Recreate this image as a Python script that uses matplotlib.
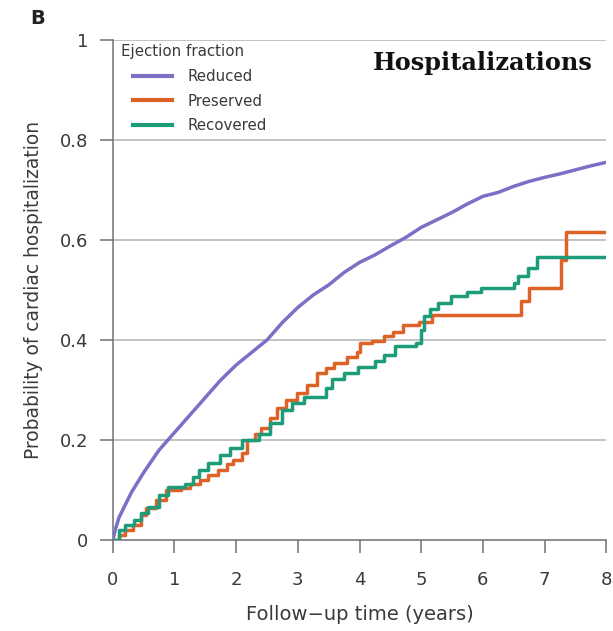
import matplotlib
matplotlib.use("Agg")
import matplotlib.pyplot as plt

plt.rcParams["font.family"] = ["DejaVu Sans"]

# Reduced EF (purple) - cumulative incidence readings
reduced_t = [0, 0.05, 0.1, 0.2, 0.3, 0.4, 0.5, 0.75, 1.0, 1.25, 1.5, 1.75, 2.0, 2.25, 2.5,
             2.75, 3.0, 3.25, 3.5, 3.75, 4.0, 4.25, 4.5, 4.75, 5.0, 5.25, 5.5, 5.75, 6.0,
             6.25, 6.5, 6.75, 7.0, 7.25, 7.5, 7.75, 8.0]
reduced_p = [0, 0.025, 0.045, 0.07, 0.095, 0.115, 0.135, 0.18, 0.215, 0.25, 0.285, 0.32, 0.35,
             0.375, 0.40, 0.435, 0.465, 0.49, 0.51, 0.535, 0.555, 0.57, 0.588, 0.605, 0.625,
             0.64, 0.655, 0.672, 0.687, 0.695, 0.707, 0.717, 0.725, 0.732, 0.74, 0.748, 0.755]

# Preserved EF (orange) - step readings
preserved_t = [0, 0.1, 0.2, 0.33, 0.45, 0.54, 0.7, 0.87, 1.1, 1.25, 1.41, 1.55, 1.7, 1.85,
               1.95, 2.1, 2.17, 2.3, 2.4, 2.55, 2.66, 2.8, 2.99, 3.15, 3.31, 3.45, 3.58, 3.8,
               3.96, 4.0, 4.2, 4.4, 4.55, 4.7, 4.97, 5.18, 6.61, 6.74, 7.26, 7.34, 8.0]
preserved_p = [0, 0.01, 0.02, 0.03, 0.05, 0.065, 0.08, 0.1, 0.105, 0.112, 0.12, 0.13, 0.14,
               0.152, 0.16, 0.175, 0.2, 0.212, 0.225, 0.245, 0.265, 0.28, 0.295, 0.31, 0.335,
               0.345, 0.355, 0.365, 0.375, 0.393, 0.398, 0.407, 0.415, 0.43, 0.435, 0.45,
               0.477, 0.503, 0.56, 0.615, 0.615]

# Recovered EF (green) - step readings
recovered_t = [0, 0.1, 0.2, 0.35, 0.45, 0.57, 0.75, 0.9, 1.17, 1.3, 1.39, 1.55, 1.73, 1.9,
               2.1, 2.37, 2.55, 2.74, 2.9, 3.1, 3.33, 3.45, 3.55, 3.75, 3.98, 4.25, 4.4, 4.57,
               4.91, 5.0, 5.05, 5.15, 5.27, 5.48, 5.75, 5.97, 6.51, 6.57, 6.73, 6.87, 8.0]
recovered_p = [0, 0.02, 0.03, 0.04, 0.055, 0.067, 0.09, 0.107, 0.113, 0.127, 0.14, 0.155,
               0.17, 0.185, 0.2, 0.213, 0.235, 0.26, 0.275, 0.287, 0.287, 0.305, 0.323, 0.335,
               0.347, 0.357, 0.37, 0.387, 0.393, 0.42, 0.447, 0.462, 0.473, 0.487, 0.495,
               0.503, 0.513, 0.527, 0.543, 0.565, 0.565]

labels = ["Reduced", "Preserved", "Recovered"]
colors = ["#7A70C6", "#DD6227", "#1C9C78"]
xticks = [0, 1, 2, 3, 4, 5, 6, 7, 8]
yticks = [0, 0.2, 0.4, 0.6, 0.8, 1.0]
ytick_labels = ["0", "0.2", "0.4", "0.6", "0.8", "1"]

fig = plt.figure(figsize=(6.13, 6.31), dpi=100)
ax = fig.add_axes([0.184, 0.144, 0.805, 0.793])

for y in yticks[1:]:
    ax.axhline(y, color="#b2b2b2", lw=1.1, zorder=1)

lw = 2.5
ax.plot(reduced_t, reduced_p, color=colors[0], lw=lw, label=labels[0], zorder=3)
ax.plot(preserved_t, preserved_p, color=colors[1], lw=lw, drawstyle="steps-post",
        label=labels[1], zorder=3)
ax.plot(recovered_t, recovered_p, color=colors[2], lw=lw, drawstyle="steps-post",
        label=labels[2], zorder=3)

ax.set_xlim(0, 8)
ax.set_ylim(0, 1)
ax.set_xticks(xticks)
ax.set_yticks(yticks)
ax.set_yticklabels(ytick_labels)
for s in ["top", "right"]:
    ax.spines[s].set_visible(False)
for s in ["left", "bottom"]:
    ax.spines[s].set_color("#707070")
    ax.spines[s].set_linewidth(1.1)
ax.tick_params(axis="both", direction="out", length=9.5, width=1.1, color="#707070",
               labelsize=13, labelcolor="#3a3a3a")
ax.tick_params(axis="y", pad=8)
ax.tick_params(axis="x", pad=13)
ax.set_xlabel("Follow\u2212up time (years)", fontsize=14, color="#3a3a3a", labelpad=11)
ax.set_ylabel("Probability of cardiac hospitalization", fontsize=13.4, color="#3a3a3a",
              labelpad=12)

leg = ax.legend(title="Ejection fraction", loc="upper left",
                bbox_to_anchor=(0.02, 1.012),
                frameon=False, fontsize=10.8, title_fontsize=10.8, handlelength=2.6,
                labelspacing=0.65, borderpad=0.3, handletextpad=1.0, borderaxespad=0.4)
leg._legend_box.align = "left"
leg.get_title().set_color("#3a3a3a")
leg.get_title().set_position((-12, 0))
for t in leg.get_texts():
    t.set_color("#3a3a3a")
for h in leg.legend_handles:
    h.set_linewidth(3)

fig.text(0.049, 0.97, "B", fontsize=14, fontweight="bold", ha="left", va="center",
         color="#222222")
fig.text(0.9674, 0.889, "Hospitalizations", fontsize=17.3, fontweight="bold",
         family="DejaVu Serif", ha="right", va="baseline", color="#111111")

fig.savefig("out.png", dpi=100)
